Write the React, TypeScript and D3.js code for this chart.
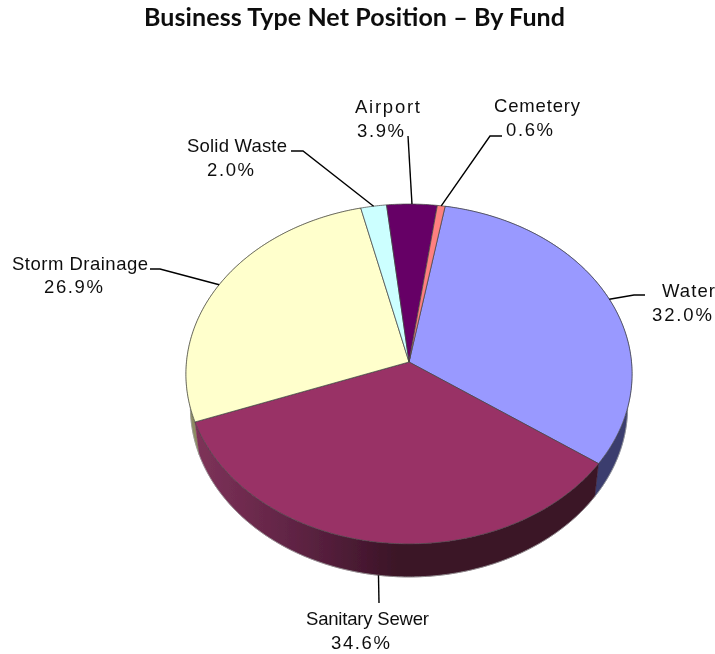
import React from "react";
import * as d3 from "d3";

const categories = ["Water", "Sanitary Sewer", "Storm Drainage", "Solid Waste", "Airport", "Cemetery"];
const shares = [32.0, 34.6, 26.9, 2.0, 3.9, 0.6];
const topColors = ["#9999FF", "#993366", "#FFFFCC", "#CCFFFF", "#660066", "#FF8080"];
const wallColors = ["#3A3E6E", "url(#sewerWall)", "#8C8C62", "#6A8080", "#330033", "#804040"];
const titleText = "Business Type Net Position \u2013 By Fund";

// Label layout: name/value start x and width, baselines, and leader elbows
const labelLayout = [
  { nx: 662, nw: 53, vx: 652, vw: 60, ny: 297, vy: 321, elbow: [[634, 295], [645, 295]] },
  { nx: 306, nw: 123, vx: 331, vw: 59, ny: 625, vy: 649, elbow: [[379, 603]] },
  { nx: 12, nw: 136, vx: 44, vw: 59, ny: 270, vy: 293, elbow: [[160, 269], [150, 269]] },
  { nx: 187, nw: 100, vx: 207, vw: 47, ny: 152, vy: 176, elbow: [[303, 151], [291, 151]] },
  { nx: 355, nw: 65, vx: 357, vw: 47, ny: 113, vy: 137, elbow: [[408, 136]] },
  { nx: 494, nw: 86, vx: 506, vw: 47, ny: 112, vy: 136, elbow: [[490, 136], [502, 136]] },
];

const W = 715, H = 654;
const apexX = 409, apexY = 362, radX = 222.5, radY = 169.1, persp = 0.0705, depth = 33, baseInset = 0.98;
const startDeg = 10;

const project = (t: number): [number, number] => {
  const X = Math.sin(t), Y = Math.cos(t), d = 1 + persp * Y;
  return [apexX + (radX * X) / d, apexY - (radY * Y) / d];
};
const projectBase = (t: number): [number, number] => {
  const [x, y] = project(t);
  return [apexX + (x - apexX) * baseInset, y + depth];
};

const arcs = d3.pie<number>().sort(null).value((d) => d)
  .startAngle((startDeg * Math.PI) / 180)
  .endAngle((startDeg * Math.PI) / 180 + 2 * Math.PI)(shares);

const line = d3.line();
const samples = (a: number, b: number) => {
  const n = Math.max(2, Math.ceil(Math.abs(b - a) / 0.01));
  return d3.range(n + 1).map((i) => a + ((b - a) * i) / n);
};
const topPath = (a: number, b: number) =>
  line([[apexX, apexY], ...samples(a, b).map((t) => project(t))])! + "Z";
const wallPath = (a: number, b: number) => {
  const s = samples(a, b);
  return line([...s.map((t) => project(t)), ...s.slice().reverse().map((t) => projectBase(t))])! + "Z";
};

const textStyle = { fontFamily: "'Liberation Sans', Arial, sans-serif", fontSize: 18.5, fill: "#111" };

export default function App() {
  return (
    <svg width={W} height={H} style={{ position: "absolute", left: 0, top: 0, background: "#fff" }}>
      <defs>
        <linearGradient id="sewerWall" gradientUnits="userSpaceOnUse" x1={196} x2={400} y1={0} y2={0}>
          <stop offset="0" stopColor="#7E3259" />
          <stop offset="0.5" stopColor="#5E2343" />
          <stop offset="1" stopColor="#3A1326" />
        </linearGradient>
        <filter id="soft" filterUnits="userSpaceOnUse" x={0} y={0} width={W} height={H}>
          <feGaussianBlur stdDeviation="0.45" />
        </filter>
      </defs>
      <text x={144} y={26} textLength={421} lengthAdjust="spacing" fontFamily="Lato, 'Open Sans', sans-serif" fontWeight={700} fontSize={25} fill="#111" filter="url(#soft)">
        {titleText}
      </text>
      <g filter="url(#soft)">
        {[2, 0, 1].map((i) => (
          <path key={i} d={wallPath(arcs[i].startAngle, arcs[i].endAngle)} fill={wallColors[i]} stroke={wallColors[i]} strokeWidth={0.5} />
        ))}
        <path d={line(samples(Math.PI * 0.45, Math.PI * 1.55).map((t) => projectBase(t)))!} fill="none" stroke="#999" strokeWidth={0.8} />
        {arcs.map((a, i) => (
          <path key={i} d={topPath(a.startAngle, a.endAngle)} fill={topColors[i]} stroke="#444" strokeWidth={0.9} strokeOpacity={0.8} strokeLinejoin="round" />
        ))}
        {arcs.map((a, i) => {
          const mid = (a.startAngle + a.endAngle) / 2;
          const anchor = categories[i] === "Sanitary Sewer" ? projectBase(mid) : project(mid);
          const pts = [anchor, ...labelLayout[i].elbow] as [number, number][];
          return <path key={i} d={line(pts)!} fill="none" stroke="#000" strokeWidth={1.4} />;
        })}
        {categories.map((c, i) => {
          const l = labelLayout[i];
          return (
            <g key={c} style={textStyle}>
              <text x={l.nx} y={l.ny} textLength={l.nw} lengthAdjust="spacing">{c}</text>
              <text x={l.vx} y={l.vy} textLength={l.vw} lengthAdjust="spacing">{shares[i].toFixed(1)}%</text>
            </g>
          );
        })}
      </g>
    </svg>
  );
}
